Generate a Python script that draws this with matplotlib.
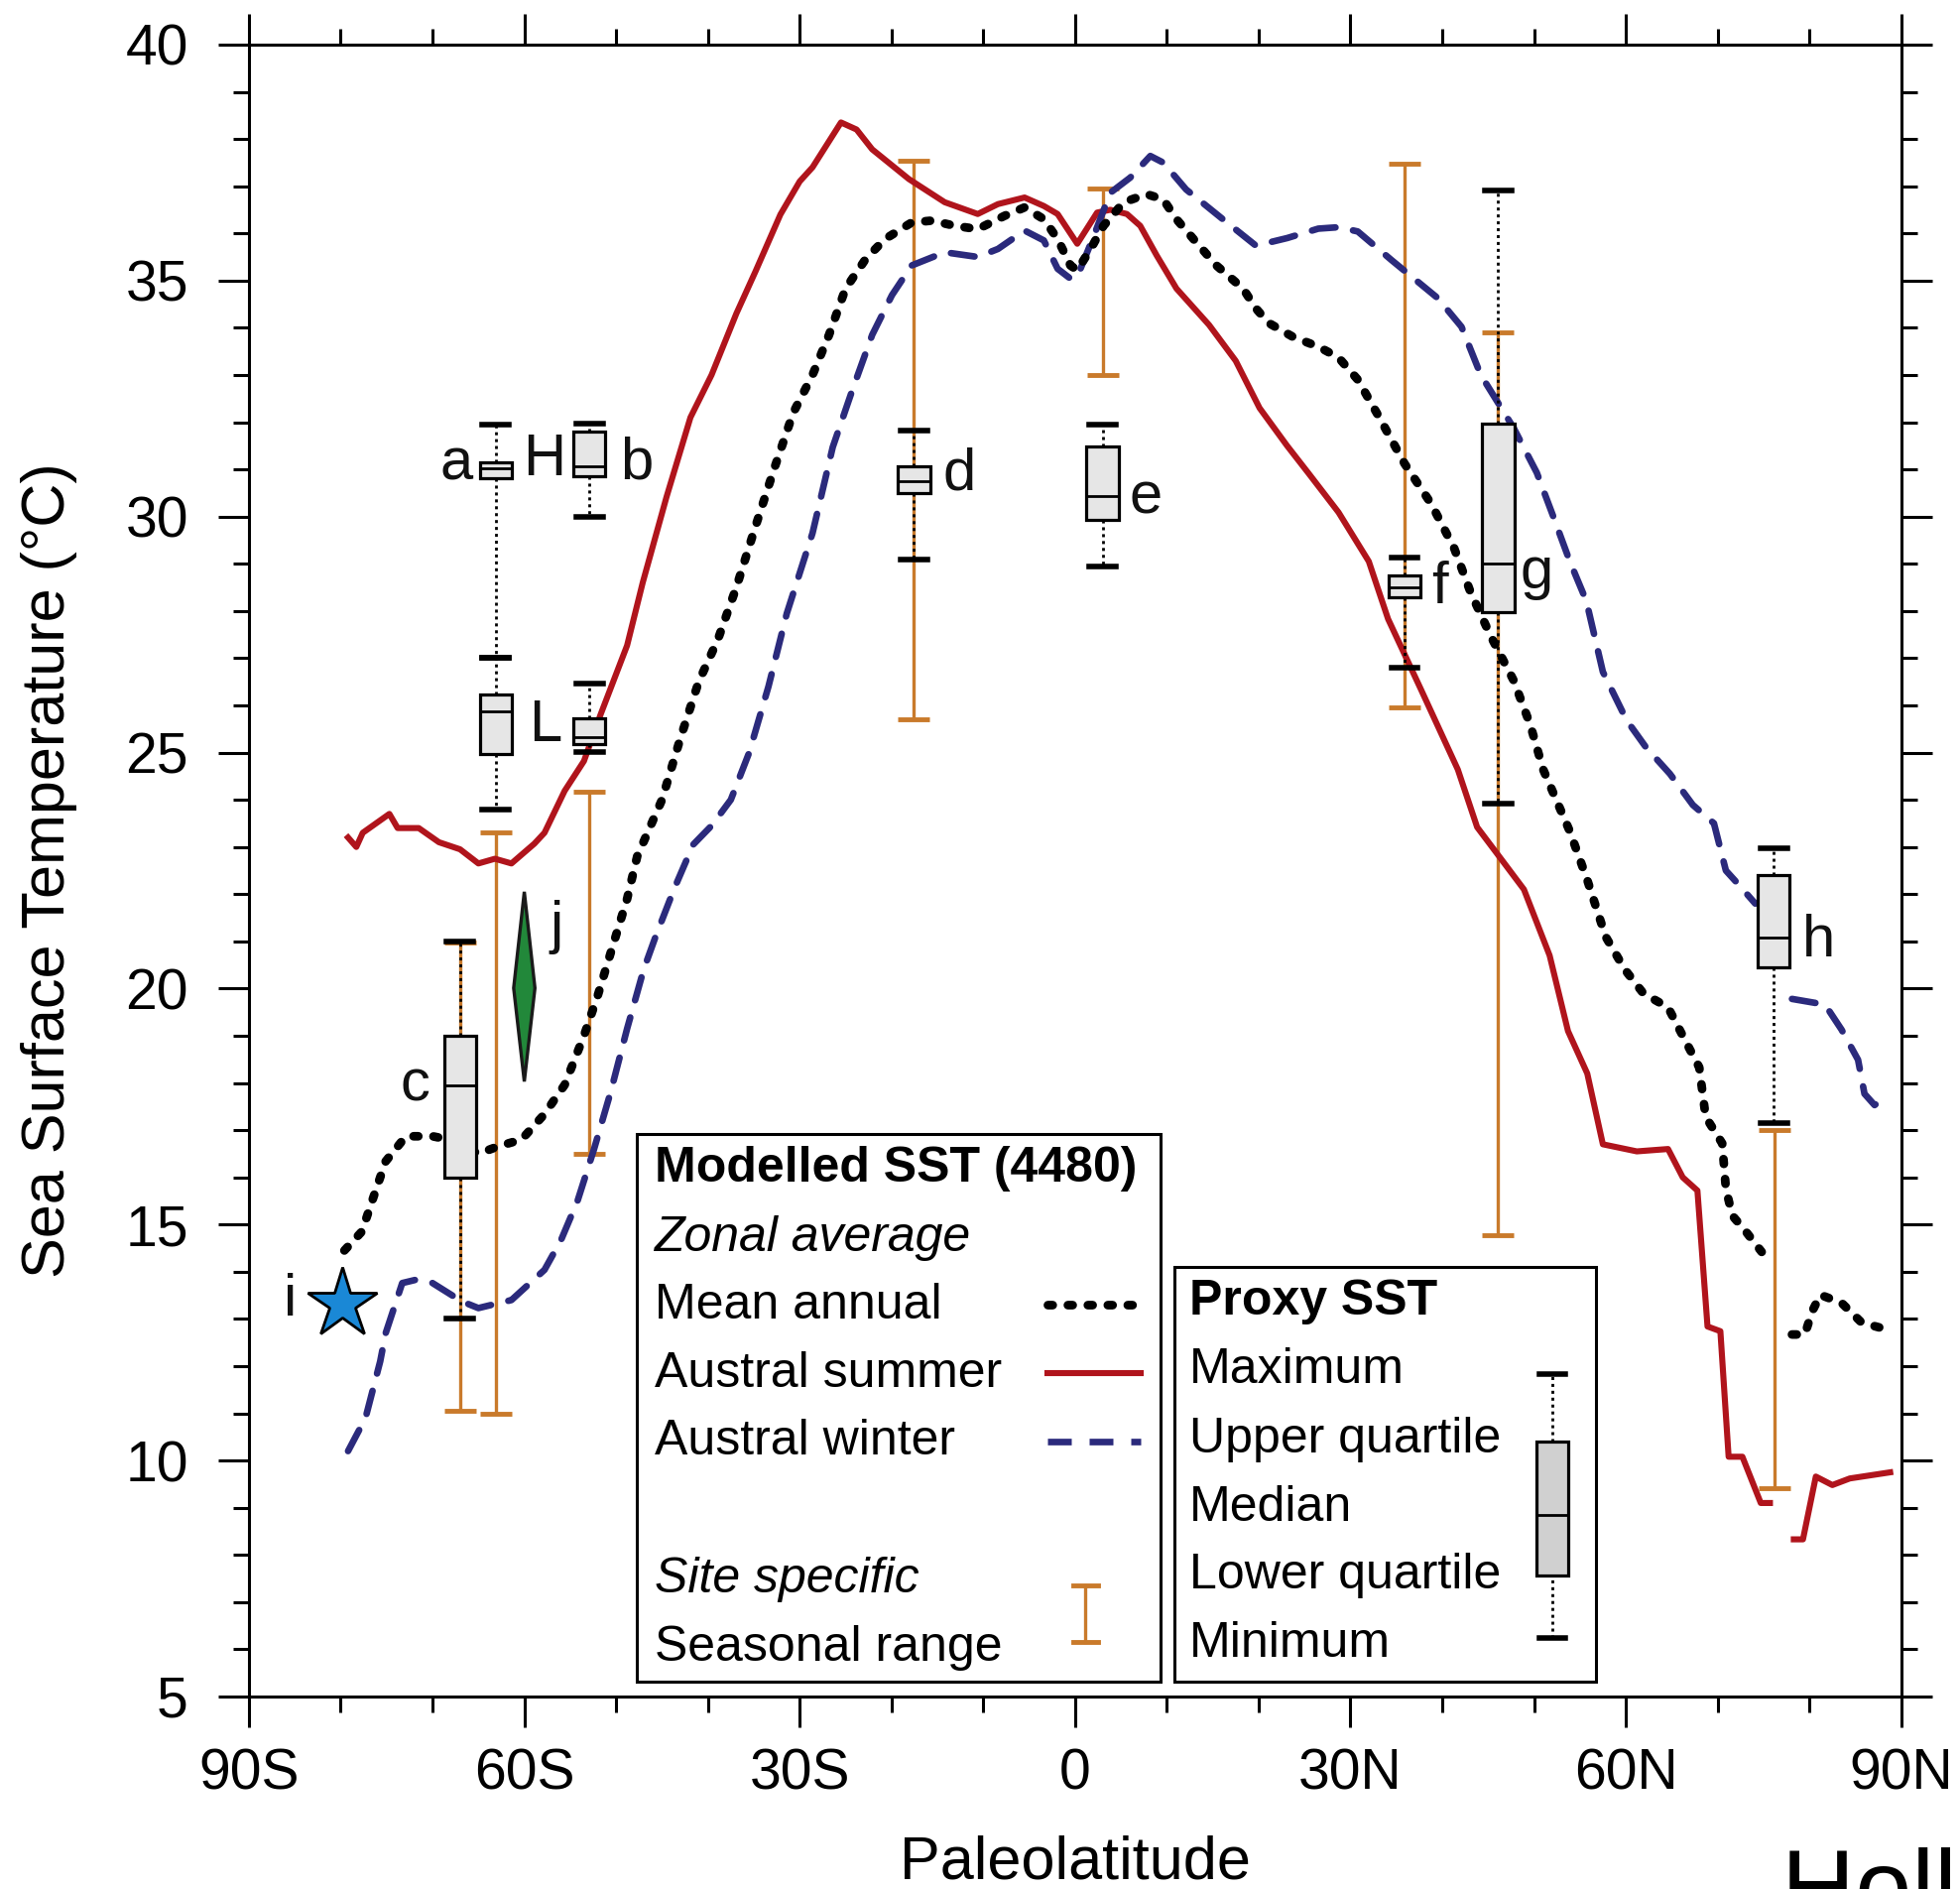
import numpy as np
import matplotlib
matplotlib.use("Agg")
import matplotlib.pyplot as plt
from matplotlib.patches import Rectangle

plt.rcParams["font.family"] = ["Liberation Sans", "DejaVu Sans"]

nan = np.nan

# modelled zonal average SST (nan = land gap near 77N)
summer_lat = [-79.2, -78.3, -77.6, -74.7, -73.8, -71.5, -69.3, -67.0, -65.0, -63.2, -61.4, -58.9,
              -57.8, -55.6, -53.5, -51.7, -48.8, -47.1, -44.5, -41.9, -39.6, -36.9, -34.8, -32.1,
              -30.0, -28.6, -25.5, -23.8, -22.1, -18.1, -14.2, -10.6, -8.4, -5.5, -3.4, -1.9,
              0.24, 2.4, 3.84, 5.65, 7.1, 8.9, 11.05, 14.6, 17.5, 20.1, 23.1, 25.5, 28.7, 32.0,
              34.1, 37.7, 41.7, 43.8, 46.2, 48.9, 51.7, 53.7, 55.8, 57.5, 61.2, 64.6, 66.2, 67.8,
              68.9, 70.3, 71.2, 72.7, 74.7, 75.7, nan, 78.3, 79.3, 80.7, 82.5, 84.4, 88.8]
summer_sst = [23.2, 23.0, 23.3, 23.7, 23.4, 23.4, 23.1, 22.95, 22.65, 22.75, 22.65, 23.07,
              23.3, 24.19, 24.82, 25.8, 27.27, 28.6, 30.42, 32.1, 33.0, 34.3, 35.2, 36.4,
              37.1, 37.4, 38.35, 38.2, 37.78, 37.15, 36.66, 36.41, 36.62, 36.76, 36.58, 36.41,
              35.78, 36.44, 36.5, 36.41, 36.16, 35.53, 34.83, 34.06, 33.3, 32.3, 31.5, 30.9, 30.09, 29.05,
              27.83, 26.33, 24.64, 23.42, 22.8, 22.1, 20.7, 19.1, 18.2, 16.7, 16.55, 16.6, 16.0, 15.72,
              12.84, 12.74, 10.08, 10.08, 9.1, 9.1, nan, 8.33, 8.33, 9.66, 9.48, 9.62, 9.75]

annual_lat = [-79.6, -77.7, -76.4, -75.1, -72.9, -70.0, -68.2, -65.0, -62.8, -60.3, -57.8, -55.6,
              -53.5, -52.0, -50.6, -48.8, -47.7, -45.0, -43.0, -41.0, -38.9, -36.9, -34.8, -32.8,
              -30.7, -28.6, -26.8, -25.0, -22.8, -20.7, -17.8, -15.6, -13.1, -10.6, -7.7, -5.5,
              -3.4, -1.9, -0.5, 0.24, 1.7, 3.1, 5.3, 7.8, 9.6, 11.05, 12.9, 15.4, 18.3, 19.7,
              21.1, 23.8, 26.5, 28.7, 30.8, 33.0, 35.9, 38.8, 41.3, 43.1, 45.3, 47.8, 49.6, 51.0,
              53.9, 55.8, 57.8, 59.9, 61.9, 64.6, 66.6, 68.0, 68.7, 70.5, 70.9, 71.6, 73.0, 74.8,
              nan, 78.1, 79.5, 80.3, 81.2, 83.5, 85.7, 87.8, 88.5]
annual_sst = [14.45, 14.85, 15.6, 16.34, 16.87, 16.87, 16.8, 16.5, 16.66, 16.8, 17.34, 17.96,
              19.0, 19.85, 20.75, 21.9, 22.8, 24.0, 25.3, 26.5, 27.4, 28.5, 29.8, 31.0,
              32.2, 33.0, 33.85, 34.83, 35.46, 35.88, 36.23, 36.27, 36.16, 36.09, 36.37, 36.55,
              36.3, 35.88, 35.32, 35.22, 35.67, 36.16, 36.66, 36.83, 36.72, 36.3, 35.88, 35.32, 34.83, 34.41,
              34.1, 33.8, 33.6, 33.37, 32.9, 32.15, 31.12, 30.27, 29.33, 28.39, 27.46, 26.52, 25.58, 24.64,
              23.33, 22.3, 21.1, 20.4, 19.9, 19.6, 18.85, 18.33, 17.28, 16.72, 15.76, 15.19, 14.87, 14.42,
              nan, 12.67, 12.67, 13.16, 13.51, 13.34, 12.92, 12.81, 12.88]

winter_lat = [-79.2, -77.3, -75.7, -75.1, -73.3, -71.8, -70.0, -66.8, -65.0, -61.4, -57.8, -56.0,
              -54.2, -52.4, -50.6, -48.8, -47.0, -45.7, -43.7, -41.6, -39.6, -37.5, -35.5, -33.4,
              -31.4, -28.6, -26.4, -24.3, -22.1, -19.95, -17.8, -14.2, -10.6, -8.4, -5.5, -3.4,
              -1.9, -0.5, 0.24, 2.05, 3.84, 6.0, 8.2, 9.6, 12.1, 16.1, 19.7, 23.1, 26.5, 28.7,
              30.8, 34.5, 39.5, 42.1, 44.2, 47.8, 50.3, 52.1, 53.9, 55.7, 57.5, 60.1, 62.2, 64.8,
              67.3, 69.6, 70.9, 72.3, 74.1, nan, 78.1, 81.7, 83.5, 85.3, 86.0, 87.1, 88.5]
winter_sst = [10.2, 10.9, 12.1, 12.7, 13.76, 13.83, 13.76, 13.37, 13.23, 13.4, 14.04, 14.67,
              15.5, 16.6, 17.8, 19.15, 20.4, 21.1, 22.1, 23.05, 23.45, 24.0, 25.0, 26.4,
              27.95, 29.65, 31.47, 32.66, 33.85, 34.69, 35.32, 35.6, 35.5, 35.67, 36.06, 35.85,
              35.25, 35.04, 35.08, 35.95, 36.86, 37.18, 37.64, 37.5, 36.93, 36.3, 35.74, 35.9, 36.1, 36.13,
              36.04, 35.43, 34.63, 34.02, 33.0, 31.87, 30.93, 30.0, 29.05, 28.21, 26.71, 25.68, 25.11, 24.55,
              23.89, 23.5, 22.5, 22.2, 21.8, nan, 19.78, 19.66, 19.13, 18.49, 17.77, 17.53, 17.73]

# site specific seasonal range
range_lat = [-67.0, -63.1, -52.9, -17.55, 3.0, 35.9, 46.1, 76.2]
range_lo = [11.05, 11.0, 16.5, 25.7, 33.0, 25.96, 14.77, 9.42]
range_hi = [20.97, 23.3, 24.17, 37.54, 36.95, 37.47, 33.9, 17.0]

# proxy SST box plots
proxy_lat = [-63.1, -52.9, -63.1, -52.9, -67.0, -17.55, 3.0, 35.9, 46.1, 76.1]
proxy_min = [27.0, 30.0, 23.8, 25.01, 13.0, 29.09, 28.95, 26.8, 23.91, 17.15]
proxy_q1 = [30.81, 30.85, 24.97, 25.18, 16.0, 30.5, 29.92, 28.28, 27.97, 20.46]
proxy_med = [31.03, 31.07, 25.87, 25.33, 17.95, 30.76, 30.44, 28.49, 29.0, 21.07]
proxy_q3 = [31.14, 31.81, 26.22, 25.73, 19.0, 31.07, 31.49, 28.75, 31.96, 22.4]
proxy_max = [31.95, 31.96, 27.0, 26.47, 21.0, 31.82, 31.94, 29.13, 36.91, 22.98]

# single estimates
star_lat, star_sst = -79.85, 13.32
j_lat, j_min, j_mid, j_max = -60.0, 18.03, 20.01, 22.05

site_labels = ["a", "H", "b", "L", "c", "d", "e", "f", "g", "h", "i", "j"]
label_lat = [-67.4, -57.8, -47.8, -57.7, -71.9, -12.6, 7.7, 39.7, 50.3, 81.0, -85.5, -56.5]
label_sst = [31.1, 31.2, 31.13, 25.57, 17.95, 30.9, 30.4, 28.5, 28.8, 21.0, 13.4, 21.3]

RED = "#b0141c"
BLUE = "#2b2a7c"
ORANGE = "#c97a2b"

BLACK_LW, BLACK_DASH = 6.3, (0.55, 1.75)
BLUE_LW, BLUE_DASH = 4.8, (3.6, 2.7)
RED_LW = 4.4
WHISK = dict(color="black", linewidth=2.0, linestyle=(0, (1.1, 1.4)))

fig = plt.figure(figsize=(19.76, 19.04), dpi=100)
ax = fig.add_axes([0.127, 0.1019, 0.843, 0.8745])

ax.errorbar(range_lat, range_lo, yerr=[np.zeros(len(range_lo)), np.array(range_hi) - np.array(range_lo)],
            fmt="none", ecolor=ORANGE, elinewidth=2.4, capsize=11.5, capthick=3.5, zorder=2)

ax.plot(summer_lat, summer_sst, color=RED, lw=RED_LW, zorder=3)
ax.plot(winter_lat, winter_sst, color=BLUE, lw=BLUE_LW, dashes=BLUE_DASH,
        dash_capstyle="round", zorder=3)
ax.plot(annual_lat, annual_sst, color="black", lw=BLACK_LW, dashes=BLACK_DASH,
        dash_capstyle="round", zorder=3)

stats = []
for i in range(len(proxy_lat)):
    stats.append(dict(med=proxy_med[i], q1=proxy_q1[i], q3=proxy_q3[i],
                      whislo=proxy_min[i], whishi=proxy_max[i], fliers=[]))
ax.bxp(stats, positions=proxy_lat, widths=3.5, capwidths=2.9, patch_artist=True,
       showfliers=False, manage_ticks=False, zorder=5,
       boxprops=dict(facecolor="#e6e6e6", edgecolor="black", linewidth=2.3),
       whiskerprops=WHISK,
       capprops=dict(color="black", linewidth=4),
       medianprops=dict(color="black", linewidth=2))

ax.plot([star_lat], [star_sst], marker="*", markersize=53, color="#1a88d6",
        markeredgecolor="black", markeredgewidth=2, zorder=6)
hw = 1.16
ax.fill([j_lat, j_lat + hw, j_lat, j_lat - hw], [j_max, j_mid, j_min, j_mid],
        facecolor="#22883a", edgecolor="#1a1a1a", linewidth=2.4, zorder=6)

for s, x, y in zip(site_labels, label_lat, label_sst):
    ax.text(x, y, s, fontsize=43, ha="center", va="center", color="#111111", zorder=7)

# legend boxes
ax.add_patch(Rectangle((0.2347, 0.0091), 0.3172, 0.3313, transform=ax.transAxes,
                       facecolor="white", edgecolor="black", lw=2.2, zorder=8))
ax.add_patch(Rectangle((0.5602, 0.0091), 0.2551, 0.2511, transform=ax.transAxes,
                       facecolor="white", edgecolor="black", lw=2.2, zorder=8))

lx = 0.2453
fs = 36
ax.text(lx, 0.3192, "Modelled SST (4480)", fontsize=fs, fontweight="bold",
        transform=ax.transAxes, va="center", zorder=9)
ax.text(lx, 0.2776, "Zonal average", fontsize=fs, style="italic",
        transform=ax.transAxes, va="center", zorder=9)
ax.text(lx, 0.2368, "Mean annual", fontsize=fs, transform=ax.transAxes, va="center", zorder=9)
ax.text(lx, 0.1952, "Austral summer", fontsize=fs, transform=ax.transAxes, va="center", zorder=9)
ax.text(lx, 0.1543, "Austral winter", fontsize=fs, transform=ax.transAxes, va="center", zorder=9)
ax.text(lx, 0.0711, "Site specific", fontsize=fs, style="italic",
        transform=ax.transAxes, va="center", zorder=9)
ax.text(lx, 0.0295, "Seasonal range", fontsize=fs, transform=ax.transAxes, va="center", zorder=9)

sx = [0.4830, 0.5400]
ax.plot(sx, [0.2375, 0.2375], color="black", lw=BLACK_LW, dashes=BLACK_DASH,
        dash_capstyle="round", transform=ax.transAxes, zorder=9)
ax.plot(sx, [0.1959, 0.1959], color=RED, lw=RED_LW, transform=ax.transAxes, zorder=9)
ax.plot(sx, [0.1543, 0.1543], color=BLUE, lw=BLUE_LW, dashes=BLUE_DASH,
        transform=ax.transAxes, zorder=9)
ox = 0.5064
ax.plot([ox, ox], [0.0333, 0.0673], color=ORANGE, lw=2.4, transform=ax.transAxes, zorder=9)
for yy in (0.0333, 0.0673):
    ax.plot([ox - 0.0075, ox + 0.0075], [yy, yy], color=ORANGE, lw=3.5,
            transform=ax.transAxes, zorder=9)

rx = 0.5693
ax.text(rx, 0.2390, "Proxy SST", fontsize=fs, fontweight="bold",
        transform=ax.transAxes, va="center", zorder=9)
for txt, yy in zip(["Maximum", "Upper quartile", "Median", "Lower quartile", "Minimum"],
                   [0.1974, 0.1558, 0.1142, 0.0734, 0.0318]):
    ax.text(rx, yy, txt, fontsize=fs, transform=ax.transAxes, va="center", zorder=9)

bx, bw = 0.7888, 0.0197
ax.plot([bx, bx], [0.0356, 0.0734], transform=ax.transAxes, zorder=9, **WHISK)
ax.plot([bx, bx], [0.1543, 0.1952], transform=ax.transAxes, zorder=9, **WHISK)
for yy in (0.0356, 0.1952):
    ax.plot([bx - 0.008, bx + 0.008], [yy, yy], color="black", lw=4,
            transform=ax.transAxes, zorder=9)
ax.add_patch(Rectangle((bx - bw / 2, 0.0734), bw, 0.0809, transform=ax.transAxes,
                       facecolor="#d0d0d0", edgecolor="black", lw=2.3, zorder=9))
ax.plot([bx - bw / 2, bx + bw / 2], [0.1097, 0.1097], color="black", lw=2,
        transform=ax.transAxes, zorder=10)

# axes
ax.set_xlim(-90, 90)
ax.set_ylim(5, 40)
ax.set_xticks([-90, -60, -30, 0, 30, 60, 90])
ax.set_xticklabels(["90S", "60S", "30S", "0", "30N", "60N", "90N"])
ax.set_xticks(np.arange(-90, 91, 10), minor=True)
ax.set_yticks(np.arange(5, 41, 5))
ax.set_yticks(np.arange(5, 41, 1), minor=True)
ax.tick_params(which="both", direction="out", top=True, right=True, width=2.2)
ax.tick_params(which="major", length=22)
ax.tick_params(which="minor", length=11.5)
ax.tick_params(axis="y", which="major", labelsize=41, pad=22)
ax.tick_params(axis="x", which="major", labelsize=41, pad=15)
for sp in ax.spines.values():
    sp.set_linewidth(2.2)

ax.set_xlabel("Paleolatitude", fontsize=44)
ax.xaxis.set_label_coords(0.5, -0.084)
ax.set_ylabel("Sea Surface Temperature (\u00b0C)", fontsize=44)
ax.yaxis.set_label_coords(-0.104, 0.5)

fig.text(0.9088, 0.022, "Hollis et al.", fontsize=74, va="top", ha="left")

fig.savefig("out.png", dpi=100)
